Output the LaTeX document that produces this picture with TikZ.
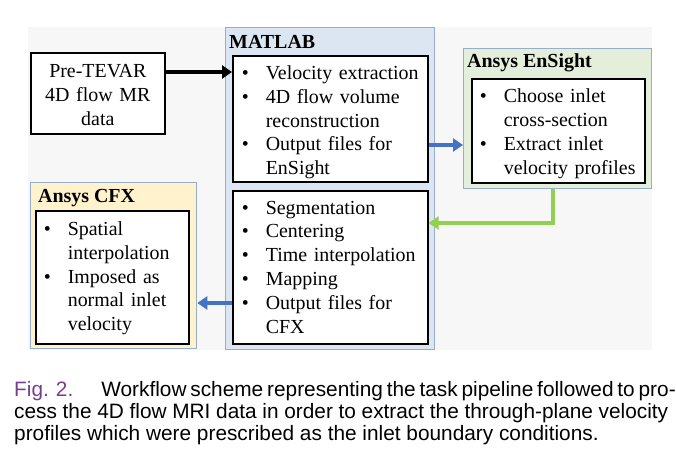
\documentclass[tikz,border=0pt]{standalone}
\usepackage{fontspec}
\setmainfont{Liberation Serif}
\newfontfamily\capfont{Liberation Sans}
\usetikzlibrary{arrows.meta,calc}
\definecolor{mblue}{HTML}{DCE6F2}
\definecolor{ebord}{HTML}{95AECB}
\definecolor{egreen}{HTML}{E3EFDA}
\definecolor{cyellow}{HTML}{FFF2CC}
\definecolor{abl}{HTML}{4472C4}
\definecolor{agr}{HTML}{92D050}
\definecolor{figpurple}{HTML}{7A3E8E}
\definecolor{bgray}{HTML}{F7F7F7}
\newcommand{\bul}{\makebox[24bp][l]{\textbullet}}
\newcommand{\ind}{\hspace*{24bp}}
\begin{document}
\begin{tikzpicture}[x=1bp,y=-1bp,
  outbox/.style={draw=ebord, line width=1.3bp, anchor=north west, inner sep=0pt},
  inbox/.style={draw=black, line width=1.6bp, fill=white, anchor=north west, inner sep=0pt},
  txtblock/.style={font=\fontsize{20}{24}\selectfont, inner xsep=8bp, inner ysep=0pt, align=left},
  title/.style={font=\fontsize{20}{24}\selectfont\bfseries, anchor=base west, inner sep=0pt},
  arr/.style={line width=3.6bp, -{Triangle[length=10bp,width=13bp]}},
  capline/.style={font=\capfont\fontsize{20.9}{22}\selectfont, anchor=base west, inner sep=0pt}]
\useasboundingbox (0,0) rectangle (676,459);
\fill[bgray] (28,27) rectangle (652,350);
% containers
\node[outbox, fill=mblue, minimum width=209bp, minimum height=322bp] (matlab) at (225,27) {};
\node[outbox, fill=egreen, minimum width=188bp, minimum height=140bp] (ens) at (463,48) {};
\node[outbox, fill=cyellow, minimum width=166bp, minimum height=166bp] (cfx) at (30,182) {};
\node[title] (tmat) at (229,49) {MATLAB};
\node[title] (tens) at (467,68) {Ansys EnSight};
\node[title] (tcfx) at (38,203) {Ansys CFX};
% inner boxes
\node[inbox, minimum width=134bp, minimum height=81bp] (pre) at (30,52) {};
\node[inbox, minimum width=195bp, minimum height=126bp] (mup) at (232,55) {};
\node[inbox, minimum width=195bp, minimum height=153bp] (mlow) at (232,190) {};
\node[inbox, minimum width=173bp, minimum height=104bp] (ensin) at (471,78) {};
\node[inbox, minimum width=153bp, minimum height=133bp] (cfxin) at (35,210) {};
% texts
\node[txtblock, align=center, text width=126bp, yshift=-2bp] (pret) at (pre.center)
  {Pre-TEVAR\\4D flow MR\\data};
\node[txtblock, inner xsep=9bp, text width=177bp, yshift=-3.5bp] (mupt) at (mup.center)
  {\bul Velocity extraction\\ \bul 4D flow volume\\ \ind reconstruction\\ \bul Output files for\\ \ind EnSight};
\node[txtblock, inner xsep=9bp, text width=177bp] (mlowt) at (mlow.center)
  {\bul Segmentation\\ \bul Centering\\ \bul Time interpolation\\ \bul Mapping\\ \bul Output files for\\ \ind CFX};
\node[txtblock, text width=157bp, yshift=-3bp] (ensint) at (ensin.center)
  {\bul Choose inlet\\ \ind cross-section\\ \bul Extract inlet\\ \ind velocity profiles};
\node[txtblock, text width=137bp, yshift=-1bp] (cfxint) at (cfxin.center)
  {\bul Spatial\\ \ind interpolation\\ \bul Imposed as\\ \ind normal inlet\\ \ind velocity};
% connectors
\coordinate (ya) at (0,72);
\coordinate (yb) at (0,145);
\coordinate (yc) at (0,223);
\coordinate (yd) at (0,303);
\coordinate (gx) at (553,0);
\draw[arr, black] (pre.east |- ya) -- (mup.west |- ya);
\draw[arr, abl] (mup.east |- yb) -- (ens.west |- yb);
\draw[arr, agr] (ens.south -| gx) |- (mlow.east |- yc);
\draw[arr, abl] (mlow.west |- yd) -- (cfx.east |- yd);
% caption
\node[capline] (cap1) at (14,396) {\makebox[654bp][s]{\color{figpurple}Fig. 2.\hspace{28bp}\color{black}Workflow scheme representing the task pipeline followed to pro-}};
\node[capline] (cap2) at (14,418) {\makebox[654bp][s]{cess the 4D flow MRI data in order to extract the through-plane velocity}};
\node[capline] (cap3) at (14,440) {profiles which were prescribed as the inlet boundary conditions.};
\end{tikzpicture}
\end{document}
